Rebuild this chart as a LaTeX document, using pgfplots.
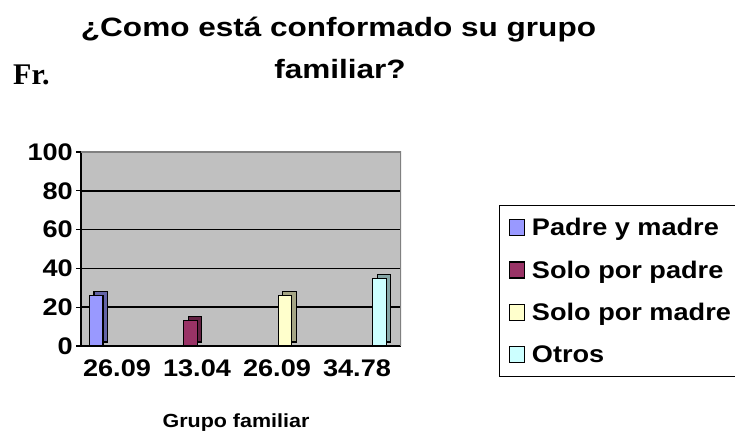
\documentclass[border=0pt]{standalone}
\usepackage{fontspec}
\setmainfont{Liberation Sans}
\newfontfamily\wide[FakeStretch=1.13]{Liberation Sans}
\newfontfamily\widet[FakeStretch=1.19]{Liberation Sans}
\newfontfamily\tnr{Liberation Serif}
\usepackage{pgfplots}
\pgfplotsset{compat=1.18}
\definecolor{c1}{HTML}{9999FF}
\definecolor{c2}{HTML}{993366}
\definecolor{c3}{HTML}{FFFFCC}
\definecolor{c4}{HTML}{CCFFFF}
\definecolor{wall}{HTML}{C0C0C0}
\definecolor{wallb}{HTML}{808080}
\begin{document}
\begin{tikzpicture}[x=1bp,y=1bp]
\path[use as bounding box] (0,0) rectangle (735,434);
\begin{scope}
\clip (0,0) rectangle (735,434);
\begin{axis}[
  at={(81bp,88bp)}, anchor=south west,
  scale only axis, width=320bp, height=194bp,
  xmin=0, xmax=4, ymin=0, ymax=100,
  axis lines=left, axis line style={-, black, line width=1.5bp},
  ytick={0,20,40,60,80,100},
  yticklabels={0,20,40,60,80,100},
  xtick={0.45,1.45,2.45,3.45},
  xticklabels={26.09,13.04,26.09,34.78},
  xtick style={draw=none},
  ytick style={black, line width=1.3bp},
  tick align=outside, major tick length=5bp,
  tick label style={font=\wide\bfseries\fontsize{24bp}{28bp}\selectfont, inner sep=0pt},
  yticklabel style={anchor=east, xshift=-3bp},
  xticklabel style={anchor=north, yshift=-9bp},
  axis background/.style={fill=wall},
  ymajorgrids, grid style={black, line width=1.6bp},
  legend style={at={(1.306,0.7268)}, anchor=north west, draw=black, line width=1.5bp, fill=white,
    inner xsep=9bp, inner ysep=13bp, row sep=24.7bp,
    nodes={inner sep=0pt, text height=17bp, text depth=0bp, font=\wide\bfseries\fontsize{24bp}{28bp}\selectfont},
    /tikz/every odd column/.style={column sep=7bp}},
  legend cell align=left,
]
% back faces (3D depth) of the columns
\addplot[ybar, bar width=13.5bp, bar shift=4.5bp, yshift=4bp, fill=c1!65!black, draw=black, line width=1.1bp, forget plot] coordinates {(0.19,26.09)};
\addplot[ybar, bar width=13.5bp, bar shift=0bp, fill=c1, draw=black, line width=1.1bp,
  legend image code/.code={\draw[fill=c1,draw=black,line width=1.3bp] (0bp,-8.5bp) rectangle (15bp,7.5bp);}] coordinates {(0.19,26.09)};
\addlegendentry{\makebox[245bp][l]{Padre y madre}}
\addplot[ybar, bar width=13.5bp, bar shift=4.5bp, yshift=4bp, fill=c2!65!black, draw=black, line width=1.1bp, forget plot] coordinates {(1.37,13.04)};
\addplot[ybar, bar width=13.5bp, bar shift=0bp, fill=c2, draw=black, line width=1.1bp,
  legend image code/.code={\draw[fill=c2,draw=black,line width=1.3bp] (0bp,-8.5bp) rectangle (15bp,7.5bp);}] coordinates {(1.37,13.04)};
\addlegendentry{\makebox[245bp][l]{Solo por padre}}
\addplot[ybar, bar width=13.5bp, bar shift=4.5bp, yshift=4bp, fill=c3!65!black, draw=black, line width=1.1bp, forget plot] coordinates {(2.55,26.09)};
\addplot[ybar, bar width=13.5bp, bar shift=0bp, fill=c3, draw=black, line width=1.1bp,
  legend image code/.code={\draw[fill=c3,draw=black,line width=1.3bp] (0bp,-8.5bp) rectangle (15bp,7.5bp);}] coordinates {(2.55,26.09)};
\addlegendentry{\makebox[245bp][l]{Solo por madre}}
\addplot[ybar, bar width=13.5bp, bar shift=4.5bp, yshift=4bp, fill=c4!65!black, draw=black, line width=1.1bp, forget plot] coordinates {(3.73,34.78)};
\addplot[ybar, bar width=13.5bp, bar shift=0bp, fill=c4, draw=black, line width=1.1bp,
  legend image code/.code={\draw[fill=c4,draw=black,line width=1.3bp] (0bp,-8.5bp) rectangle (15bp,7.5bp);}] coordinates {(3.73,34.78)};
\addlegendentry{\makebox[245bp][l]{Otros}}
\draw[wallb, line width=2bp] (rel axis cs:0,1) -- (rel axis cs:1,1) -- (rel axis cs:1,0);
\end{axis}
\end{scope}
\node[anchor=base, inner sep=0pt, font=\widet\bfseries\fontsize{26.5bp}{30bp}\selectfont] at (338.5,397) {¿Como está conformado su grupo};
\node[anchor=base, inner sep=0pt, font=\widet\bfseries\fontsize{26.5bp}{30bp}\selectfont] at (340,355) {familiar?};
\node[anchor=base west, inner sep=0pt, font=\tnr\bfseries\fontsize{30bp}{32bp}\selectfont] at (13,349) {Fr.};
\node[anchor=base, inner sep=0pt, font=\wide\bfseries\fontsize{19bp}{22bp}\selectfont] at (236,6) {Grupo familiar};
\end{tikzpicture}
\end{document}
